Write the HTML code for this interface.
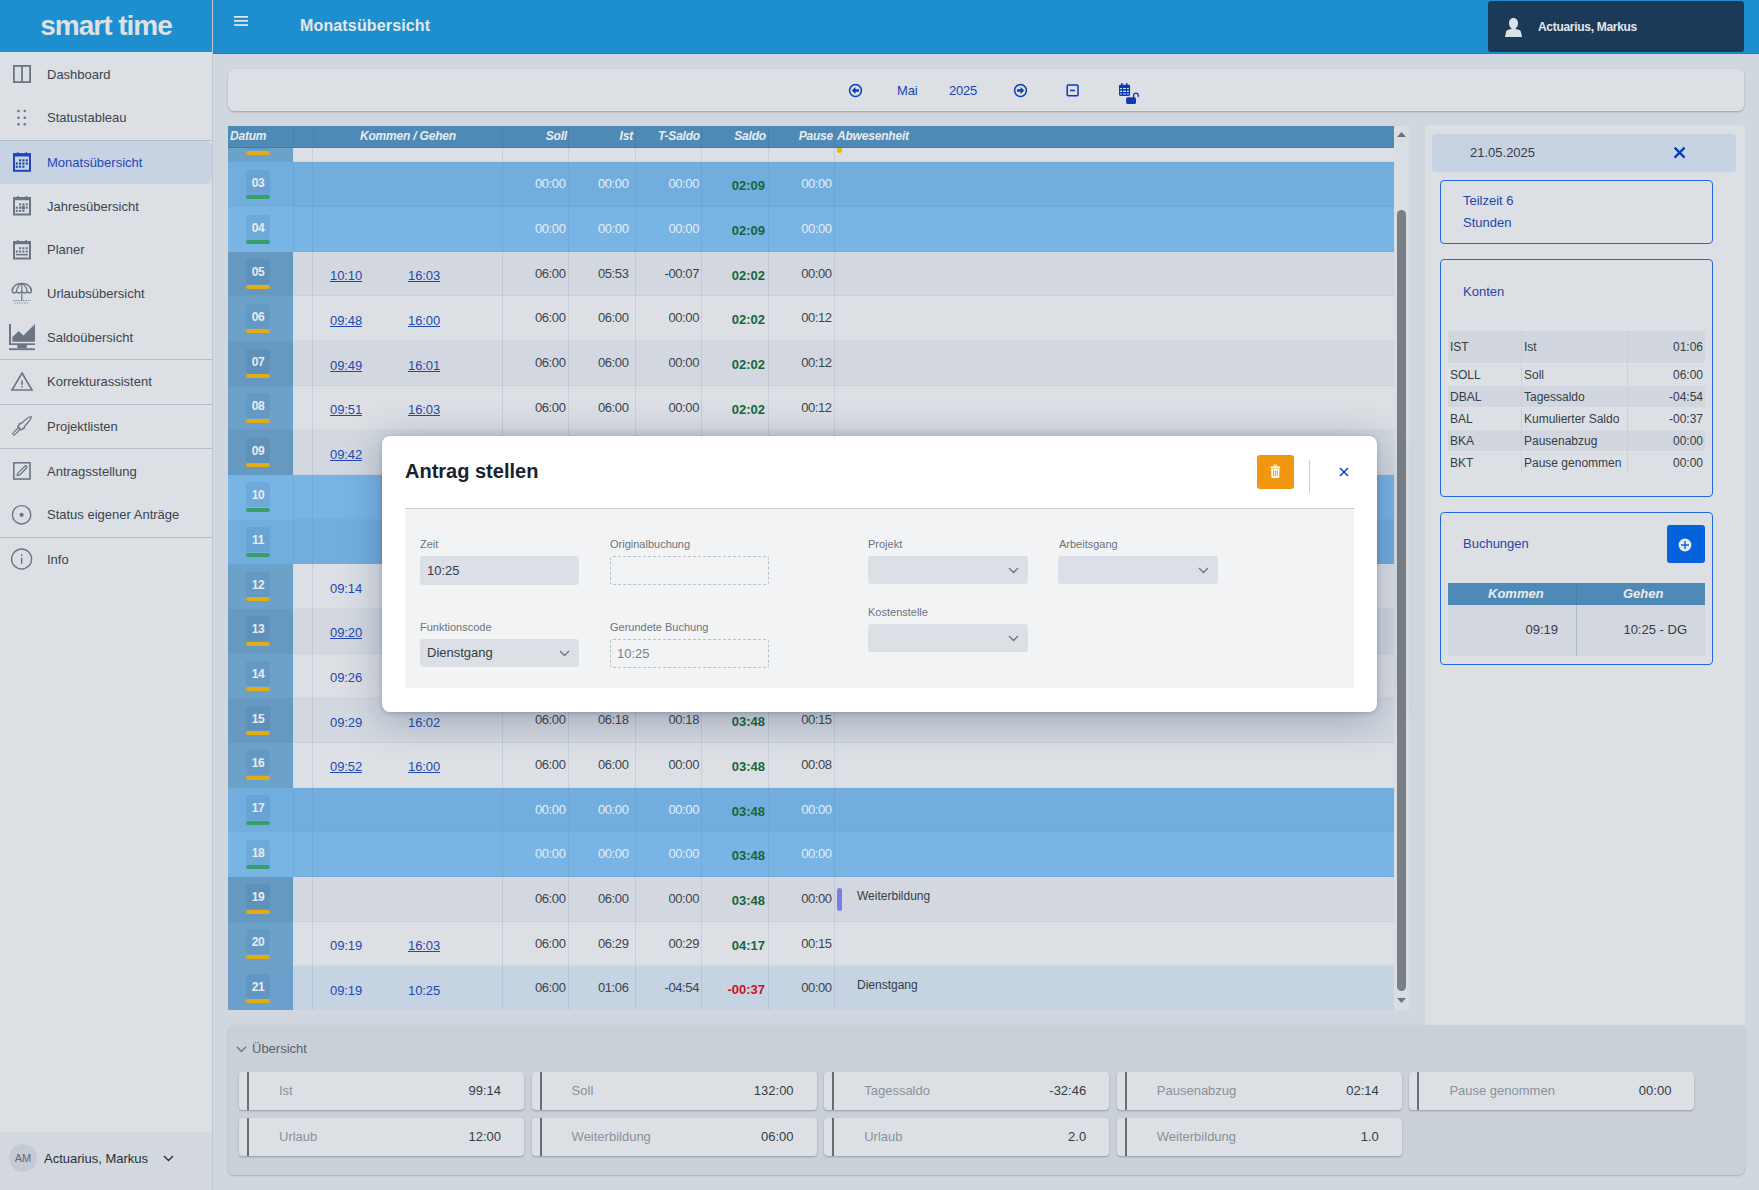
<!DOCTYPE html>
<html><head><meta charset="utf-8">
<style>
*{box-sizing:border-box;margin:0;padding:0}
html,body{width:1759px;height:1190px;overflow:hidden;font-family:"Liberation Sans",sans-serif;background:#d1d7df;color:#343c46;position:relative}
i{display:block;font-style:normal}
.abs{position:absolute}
#sb{position:absolute;left:0;top:0;width:213px;height:1190px;background:#dce0e5;border-right:1px solid #bfc7d1}
#logo{position:absolute;left:0;top:0;width:212px;height:52px;background:#1d8fcf;color:#dde1e6;font-weight:bold;font-size:28px;text-align:center;line-height:52px;letter-spacing:-1px}
.nav{position:absolute;left:0;width:212px;height:43px;font-size:13px;color:#3a4450}
.nav.act{background:#c7d3e3;border-radius:0 6px 6px 0;color:#1f48b6}
.nav .t{position:absolute;left:47px;top:0;line-height:43px}
.nav svg{position:absolute;left:13px}
.sep{position:absolute;left:0;width:212px;height:1px;background:#b4bcc7}
#sbu{position:absolute;left:0;top:1132px;width:212px;height:58px;background:#d3d8df}
#av{position:absolute;left:9px;top:12px;width:28px;height:28px;border-radius:50%;background:#c4cbd4;color:#5f6873;font-size:11px;text-align:center;line-height:28px}
#hdr{position:absolute;left:213px;top:0;width:1546px;height:54px;background:#1d8fcf;border-bottom:1px solid #1582c4}
#ttl{position:absolute;left:300px;top:17px;font-size:16px;font-weight:bold;color:#e4e7eb;letter-spacing:0.15px}
#user{position:absolute;left:1488px;top:1px;width:256px;height:51px;background:#1b3a57;border-radius:3px;color:#e4e7eb;font-weight:bold;font-size:12px;letter-spacing:-0.3px}
#toolbar{position:absolute;left:228px;top:69px;width:1516px;height:42px;background:#dce0e5;border-radius:6px;box-shadow:0 1px 2px rgba(0,0,0,.25)}
.tb{position:absolute;color:#1f3fae;font-size:13px;letter-spacing:-0.2px}
#tbl{position:absolute;left:228px;top:126px;width:1166px;height:884px;overflow:hidden}
#th{position:absolute;left:0;top:0;width:1166px;height:21.5px;background:#4e8ab5;color:#e8ecf0;font-style:italic;font-size:12px;font-weight:bold;letter-spacing:-0.2px;z-index:2}
#th span{position:absolute;top:3px}
#th:after{content:'';position:absolute;left:0;bottom:0;width:100%;height:1px;background:#3f79a6}
#th .hv{position:absolute;top:0;width:1px;height:100%;background:rgba(0,0,0,.07)}
.row{position:absolute;left:0;width:1166px;height:44.72px;background:#dce0e5}
.row.ra{background:#d3d8e0}
.row{box-shadow:inset 0 -1px 0 rgba(60,80,110,.05)}
.row.rw{background:#71aede}
.row.rW{background:#78b4e4}
.row.rs{background:#c5d3e3}
.row .d{position:absolute;left:0;top:0;width:65px;height:100%;background:#6ca2ca}
.row.ra .d{background:#6599c1}
.row.rw .d{background:#71aede}
.row.rW .d{background:#78b4e4}
.row.rs .d{background:#6aa0cb}
.badge{position:absolute;left:18px;top:7.5px;width:24px;height:25px;border-radius:3px;background:rgba(40,90,140,.12);color:#e8ecf0;font-size:12px;font-weight:bold;text-align:center;line-height:26px;letter-spacing:-0.3px}
.bar{position:absolute;left:18px;top:33px;width:24px;height:4px;border-radius:2px;background:#e4ac10}
.bar.g{background:#37a06a}
.vl{position:absolute;top:0;width:1px;height:100%;background:rgba(110,130,160,.18)}
.c{position:absolute;top:14px;font-size:13px;color:#3a4450;letter-spacing:-0.4px}
.k{position:absolute;top:16.5px;letter-spacing:-0.1px;font-size:13px;color:#2248b0}
.k.u{text-decoration:underline}
.sal{position:absolute;top:16px;font-size:13px;font-weight:bold;color:#17663a}
.sal.red{color:#c8161d}
.rw .c,.rW .c{color:#e6eef6}
.abwbar{position:absolute;left:609px;top:11px;width:5px;height:23px;border-radius:3px;background:#7b7de6}
.abwbar.lt{background:#cccde8}
.abwbar.yl{background:#e2c000;top:auto;bottom:-15.5px;height:22px}
.abw{position:absolute;left:629px;top:12px;font-size:12px;color:#343c46}
#scr{position:absolute;left:1394px;top:126px;width:15px;height:884px;background:#d9dee4}
#thumb{position:absolute;left:3px;top:83.5px;width:9px;height:781px;border-radius:4.5px;background:#7a7f85}
#rp{position:absolute;left:1425px;top:125px;width:320px;height:900px;background:#dce0e5;border-radius:4px}
.box{position:absolute;width:273px;border:1.6px solid #1f6be0;border-radius:4px}
.bt{font-size:13px;color:#2844a8}
.kr{position:absolute;left:0;width:257px;font-size:12px;color:#343c46}
.kr.alt{background:#d2d7df}
.kr{border-bottom:1px solid #dde1e6}
.kr i{position:absolute;top:0;width:1px;height:100%;background:#c9cfd7}
.kr span{position:absolute;top:0}
#ft{position:absolute;left:228px;top:1025px;width:1517px;height:150px;background:#c9d0d8;border-radius:7px;box-shadow:0 1px 2px rgba(0,0,0,.2)}
.card{position:absolute;width:285px;height:38px;background:#dce0e5;border-radius:4px;box-shadow:0 1px 2px rgba(0,0,0,.25)}
.card:before{content:"";position:absolute;left:8px;top:0;width:2px;height:100%;background:#686d74}
.card .l{position:absolute;left:40px;top:11px;font-size:13px;color:#8a9099}
.card .v{position:absolute;right:23px;top:11px;font-size:13px;color:#343c46}
#modal{position:absolute;left:382px;top:436px;width:995px;height:276px;background:#fff;border-radius:8px;box-shadow:0 6px 40px rgba(30,50,80,.32),0 1px 4px rgba(30,50,80,.25)}
#form{position:absolute;left:23px;top:72px;width:949px;height:180px;background:#f2f3f5;border-top:1px solid #c5ccd5}
.lbl{position:absolute;font-size:11px;color:#6c737c}
.inp{position:absolute;width:159px;height:29px;background:#dce0e6;border-radius:3px;font-size:13px;color:#343c46;padding-left:7px;line-height:29px}
.dash{position:absolute;width:159px;height:29px;border:1px dashed #b9bfc7;border-radius:3px;font-size:13px;color:#7a8089;padding-left:6px;line-height:27px}
.chev{position:absolute;right:9px;top:11px}

.inp.sel{height:28px;line-height:28px}
.dash.sel2{height:28px}

</style></head><body>
<div id="sb"><div id="logo">smart time</div>
<div class="nav" style="top:53px"><span class="t">Dashboard</span></div>
<div class="nav" style="top:96px"><span class="t">Statustableau</span></div>
<div class="nav act" style="top:141px"><span class="t">Monatsübersicht</span></div>
<div class="nav" style="top:185px"><span class="t">Jahresübersicht</span></div>
<div class="nav" style="top:228px"><span class="t">Planer</span></div>
<div class="nav" style="top:272px"><span class="t">Urlaubsübersicht</span></div>
<div class="nav" style="top:316px"><span class="t">Saldoübersicht</span></div>
<div class="nav" style="top:360px"><span class="t">Korrekturassistent</span></div>
<div class="nav" style="top:405px"><span class="t">Projektlisten</span></div>
<div class="nav" style="top:450px"><span class="t">Antragsstellung</span></div>
<div class="nav" style="top:493px"><span class="t">Status eigener Anträge</span></div>
<div class="nav" style="top:538px"><span class="t">Info</span></div>
<div class="sep" style="top:139.5px"></div>
<div class="sep" style="top:359px"></div>
<div class="sep" style="top:403.5px"></div>
<div class="sep" style="top:448px"></div>
<div class="sep" style="top:537px"></div>
<svg class="abs" style="left:0;top:0" width="212" height="600" viewBox="0 0 212 600"><rect x="13.9" y="65.9" width="16.2" height="16.2" fill="none" stroke="#6b7685" stroke-width="1.8"/><rect x="21.1" y="66" width="1.8" height="16" fill="#6b7685"/><circle cx="18.5" cy="111" r="1.3" fill="#6b7685"/><circle cx="18.5" cy="117.8" r="1.3" fill="#6b7685"/><circle cx="18.5" cy="124.3" r="1.3" fill="#6b7685"/><circle cx="24.8" cy="111" r="1.3" fill="#6b7685"/><circle cx="24.8" cy="117.8" r="1.3" fill="#6b7685"/><circle cx="24.8" cy="124.3" r="1.3" fill="#6b7685"/><rect x="14" y="154.3" width="16" height="16.5" fill="none" stroke="#1f48b6" stroke-width="2"/><rect x="13" y="153.3" width="18" height="3.2" fill="#1f48b6"/><rect x="17" y="152.3" width="1.6" height="2" fill="#1f48b6"/><rect x="25.4" y="152.3" width="1.6" height="2" fill="#1f48b6"/><rect x="19" y="159.3" width="2.1" height="2.1" fill="#1f48b6"/><rect x="22.3" y="159.3" width="2.1" height="2.1" fill="#1f48b6"/><rect x="25.7" y="159.3" width="2.1" height="2.1" fill="#1f48b6"/><rect x="15.8" y="162.5" width="2.1" height="2.1" fill="#1f48b6"/><rect x="19" y="162.5" width="2.1" height="2.1" fill="#1f48b6"/><rect x="22.3" y="162.5" width="2.1" height="2.1" fill="#1f48b6"/><rect x="25.7" y="162.5" width="2.1" height="2.1" fill="#1f48b6"/><rect x="15.8" y="165.7" width="2.1" height="2.1" fill="#1f48b6"/><rect x="19" y="165.7" width="2.1" height="2.1" fill="#1f48b6"/><rect x="22.3" y="165.7" width="2.1" height="2.1" fill="#1f48b6"/><rect x="14" y="198" width="16" height="16.5" fill="none" stroke="#6b7685" stroke-width="2"/><rect x="13" y="197" width="18" height="3.2" fill="#6b7685"/><rect x="17" y="196" width="1.6" height="2" fill="#6b7685"/><rect x="25.4" y="196" width="1.6" height="2" fill="#6b7685"/><rect x="19" y="203.4" width="2.1" height="2.1" fill="#6b7685"/><rect x="22.3" y="203.4" width="2.1" height="2.1" fill="#6b7685"/><rect x="25.7" y="203.4" width="2.1" height="2.1" fill="#6b7685"/><rect x="15.8" y="206.6" width="2.1" height="2.1" fill="#6b7685"/><rect x="19" y="206.6" width="2.1" height="2.1" fill="#6b7685"/><rect x="25.7" y="206.6" width="2.1" height="2.1" fill="#6b7685"/><rect x="15.8" y="209.8" width="2.1" height="2.1" fill="#6b7685"/><rect x="19" y="209.8" width="2.1" height="2.1" fill="#6b7685"/><rect x="22.3" y="209.8" width="2.1" height="2.1" fill="#6b7685"/><rect x="21.6" y="206" width="3.3" height="3.3" fill="#6b7685"/><rect x="14" y="242" width="16" height="16.5" fill="none" stroke="#6b7685" stroke-width="2"/><rect x="13" y="241" width="18" height="3.2" fill="#6b7685"/><rect x="17" y="240" width="1.6" height="2" fill="#6b7685"/><rect x="25.4" y="240" width="1.6" height="2" fill="#6b7685"/><rect x="19" y="247.2" width="2.1" height="2.1" fill="#6b7685"/><rect x="22.3" y="247.2" width="2.1" height="2.1" fill="#6b7685"/><rect x="25.7" y="247.2" width="2.1" height="2.1" fill="#6b7685"/><rect x="15.8" y="250.5" width="2.1" height="2.1" fill="#6b7685"/><rect x="19" y="250.5" width="2.1" height="2.1" fill="#6b7685"/><rect x="22.3" y="250.5" width="2.1" height="2.1" fill="#6b7685"/><rect x="25.7" y="250.5" width="2.1" height="2.1" fill="#6b7685"/><rect x="16" y="253.9" width="12" height="1.5" fill="#6b7685"/><path d="M12 291.5 Q13 283.5 21.8 283.5 Q30.6 283.5 31.6 291.5" fill="none" stroke="#6b7685" stroke-width="1.5"/><path d="M12 291.5 Q14.2 294.2 16.4 291.8 Q19 294.2 21.8 291.8 Q24.6 294.2 27.2 291.8 Q29.4 294.2 31.6 291.5" fill="none" stroke="#6b7685" stroke-width="1.5"/><path d="M16.4 291.8 Q17 286 21.8 283.5 Q26.6 286 27.2 291.8 M21.8 283.5 V300.5" fill="none" stroke="#6b7685" stroke-width="1.2"/><path d="M13 300.5 H31" stroke="#6b7685" stroke-width="1.1" stroke-dasharray="1.2 1.3"/><path d="M14.5 303 H29" stroke="#6b7685" stroke-width="1" stroke-dasharray="1 1.4"/><rect x="9" y="324" width="2" height="21" fill="#6b7685"/><rect x="9" y="343.3" width="26" height="1.7" fill="#6b7685"/><path d="M12.3 337.3 L18.6 331 L23.4 335.4 L35 324 V341.7 H12.3Z" fill="#6b7685"/><rect x="17.3" y="345" width="9.5" height="3.4" fill="#6b7685"/><rect x="9" y="348.3" width="26" height="1.8" fill="#6b7685"/><path d="M22 373 L32 390 H12Z" fill="none" stroke="#6b7685" stroke-width="1.6" stroke-linejoin="miter"/><rect x="21.2" y="380.4" width="1.6" height="4.6" fill="#6b7685"/><rect x="21.2" y="386" width="1.6" height="1.5" fill="#6b7685"/><g transform="rotate(-45 22 425.8)"><rect x="9.5" y="424.6" width="9" height="2.4" rx="1.2" fill="none" stroke="#6b7685" stroke-width="1.2"/><path d="M18.5 423.3 H21 V422.6 H22.6 V423.4 L24.5 423.8 Q34 423.8 35 425.8 Q34 427.8 24.5 427.8 L22.6 428.2 V429 H21 V428.3 H18.5Z" fill="none" stroke="#6b7685" stroke-width="1.3" stroke-linejoin="round"/></g><rect x="13.8" y="462.8" width="16.2" height="16.2" fill="none" stroke="#6b7685" stroke-width="1.6"/><path d="M17.3 475.5 L17.6 473.4 L24.8 466.2 Q25.8 465.4 26.6 466.2 Q27.4 467 26.6 468 L19.4 475.2Z" fill="none" stroke="#6b7685" stroke-width="1.3" stroke-linejoin="round"/><circle cx="21.6" cy="514.8" r="9.2" fill="none" stroke="#6b7685" stroke-width="1.4"/><circle cx="21.6" cy="514.8" r="2.1" fill="#6b7685"/><circle cx="21.6" cy="559" r="10" fill="none" stroke="#6b7685" stroke-width="1.4"/><rect x="20.9" y="557.6" width="1.5" height="6" fill="#6b7685"/><rect x="20.9" y="554.3" width="1.5" height="1.6" fill="#6b7685"/></svg>
<div id="sbu"><div id="av">AM</div><span class="abs" style="left:44px;top:19px;font-size:13px;color:#262e38">Actuarius, Markus</span><svg class="abs" style="left:162.5px;top:23px" width="11" height="7" viewBox="0 0 11 7"><path d="M1 1 L5.5 5.5 L10 1" fill="none" stroke="#262e38" stroke-width="1.4"/></svg></div>
</div>
<div id="hdr"></div>
<svg class="abs" style="left:234px;top:15px" width="14" height="12" viewBox="0 0 14 12"><rect x="0" y="1" width="14" height="1.7" fill="#e4e7eb"/><rect x="0" y="5" width="14" height="1.7" fill="#e4e7eb"/><rect x="0" y="9.2" width="14" height="1.7" fill="#e4e7eb"/></svg>
<div id="ttl">Monatsübersicht</div>
<div id="user">
  <svg class="abs" style="left:17px;top:16.5px" width="18" height="20" viewBox="0 0 18 20"><path d="M8.5 0 C11.2 0 13 2.2 13 5.2 C13 7.6 11.8 9.6 10.6 10.3 L10.6 11 C13.8 11.4 15.6 12.2 16 14 L17 19 H0 L1 14 C1.4 12.2 3.2 11.4 6.4 11 L6.4 10.3 C5.2 9.6 4 7.6 4 5.2 C4 2.2 5.8 0 8.5 0Z" fill="#dde1e6"/></svg>
  <div class="abs" style="left:50px;top:19px">Actuarius, Markus</div>
</div>
<div id="toolbar"></div>
<svg class="abs" style="left:848px;top:83px" width="15" height="15" viewBox="0 0 15 15"><circle cx="7.5" cy="7.5" r="5.9" fill="none" stroke="#0c3bb2" stroke-width="1.5"/><path d="M3.8 7.5 L7.4 3.9 V6.2 H11 V8.8 H7.4 V11.1Z" fill="#0c3bb2"/></svg>
<span class="tb" style="left:897px;top:83px">Mai</span>
<span class="tb" style="left:949px;top:83px">2025</span>
<svg class="abs" style="left:1013px;top:83px" width="15" height="15" viewBox="0 0 15 15"><circle cx="7.5" cy="7.5" r="5.9" fill="none" stroke="#0c3bb2" stroke-width="1.5"/><path d="M11.2 7.5 L7.6 3.9 V6.2 H4 V8.8 H7.6 V11.1Z" fill="#0c3bb2"/></svg>
<svg class="abs" style="left:1066px;top:84px" width="13" height="13" viewBox="0 0 13 13"><rect x="1.2" y="1" width="10.8" height="10.8" rx="1" fill="none" stroke="#0c3bb2" stroke-width="1.5"/><rect x="4" y="5.7" width="5" height="1.5" fill="#0c3bb2"/></svg>
<svg class="abs" style="left:1118px;top:82px" width="23" height="24" viewBox="0 0 23 24"><rect x="1" y="2.8" width="11.1" height="11.1" rx="1.3" fill="#0c3bb2"/><rect x="3.1" y="1" width="1.5" height="2.5" rx="0.6" fill="#0c3bb2"/><rect x="8" y="1" width="1.5" height="2.5" rx="0.6" fill="#0c3bb2"/>
<g fill="#dce0e5"><rect x="2" y="6" width="2" height="1.1"/><rect x="5.1" y="6" width="2.8" height="1.1"/><rect x="8.9" y="6" width="2" height="1.1"/><rect x="2" y="8.7" width="2" height="1.3"/><rect x="5.1" y="8.7" width="2.8" height="1.3"/><rect x="8.9" y="8.7" width="2" height="1.3"/></g><g fill="#dce0e5" opacity="0.55"><rect x="2" y="11.1" width="2" height="1.7"/><rect x="5.1" y="11.1" width="2.8" height="1.7"/><rect x="8.9" y="11.1" width="2" height="1.7"/></g>
<rect x="8.1" y="15.2" width="9.9" height="6.8" rx="1.6" fill="#0c3bb2"/><path d="M15.6 15.6 V13.4 A2.35 2.35 0 0 1 20.3 13.4 V14.4" fill="none" stroke="#0c3bb2" stroke-width="1.3" stroke-linecap="round"/></svg>

<div id="tbl">
<div id="th"><span style="left:2px">Datum</span><span style="left:132px">Kommen / Gehen</span><span style="right:827px">Soll</span><span style="right:761px">Ist</span><span style="right:694px">T-Saldo</span><span style="right:628px">Saldo</span><span style="right:561px">Pause</span><span style="left:609px">Abwesenheit</span><i class="hv" style="left:65px"></i><i class="hv" style="left:85px"></i><i class="hv" style="left:274px"></i><i class="hv" style="left:340px"></i><i class="hv" style="left:407px"></i><i class="hv" style="left:473px"></i><i class="hv" style="left:540px"></i><i class="hv" style="left:606px"></i></div>
<div class="row rn" style="top:-8.25px">
<div class="d"><div class="badge">02</div><div class="bar"></div></div>
<i class="vl" style="left:84px"></i>
<i class="vl" style="left:274px"></i>
<i class="vl" style="left:340px"></i>
<i class="vl" style="left:407px"></i>
<i class="vl" style="left:473px"></i>
<i class="vl" style="left:540px"></i>
<i class="vl" style="left:606px"></i>
<i class="abwbar yl" style="bottom:9px;top:auto"></i>
</div>
<div class="row rw" style="top:36.40px">
<div class="d"><div class="badge">03</div><div class="bar g"></div></div>
<i class="vl" style="left:65px"></i>
<i class="vl" style="left:84px"></i>
<i class="vl" style="left:274px"></i>
<i class="vl" style="left:340px"></i>
<i class="vl" style="left:407px"></i>
<i class="vl" style="left:473px"></i>
<i class="vl" style="left:540px"></i>
<i class="vl" style="left:606px"></i>
<span class="c" style="right:828.5px">00:00</span>
<span class="c" style="right:765.5px">00:00</span>
<span class="c" style="right:695px">00:00</span>
<span class="c" style="right:562.3px">00:00</span>
<span class="sal" style="right:629px">02:09</span>
</div>
<div class="row rW" style="top:81.06px">
<div class="d"><div class="badge">04</div><div class="bar g"></div></div>
<i class="vl" style="left:65px"></i>
<i class="vl" style="left:84px"></i>
<i class="vl" style="left:274px"></i>
<i class="vl" style="left:340px"></i>
<i class="vl" style="left:407px"></i>
<i class="vl" style="left:473px"></i>
<i class="vl" style="left:540px"></i>
<i class="vl" style="left:606px"></i>
<span class="c" style="right:828.5px">00:00</span>
<span class="c" style="right:765.5px">00:00</span>
<span class="c" style="right:695px">00:00</span>
<span class="c" style="right:562.3px">00:00</span>
<span class="sal" style="right:629px">02:09</span>
</div>
<div class="row ra" style="top:125.71px">
<div class="d"><div class="badge">05</div><div class="bar"></div></div>
<i class="vl" style="left:84px"></i>
<i class="vl" style="left:274px"></i>
<i class="vl" style="left:340px"></i>
<i class="vl" style="left:407px"></i>
<i class="vl" style="left:473px"></i>
<i class="vl" style="left:540px"></i>
<i class="vl" style="left:606px"></i>
<span class="k u" style="left:102px">10:10</span>
<span class="k u" style="left:180px">16:03</span>
<span class="c" style="right:828.5px">06:00</span>
<span class="c" style="right:765.5px">05:53</span>
<span class="c" style="right:695px">-00:07</span>
<span class="c" style="right:562.3px">00:00</span>
<span class="sal" style="right:629px">02:02</span>
</div>
<div class="row rn" style="top:170.37px">
<div class="d"><div class="badge">06</div><div class="bar"></div></div>
<i class="vl" style="left:84px"></i>
<i class="vl" style="left:274px"></i>
<i class="vl" style="left:340px"></i>
<i class="vl" style="left:407px"></i>
<i class="vl" style="left:473px"></i>
<i class="vl" style="left:540px"></i>
<i class="vl" style="left:606px"></i>
<span class="k u" style="left:102px">09:48</span>
<span class="k u" style="left:180px">16:00</span>
<span class="c" style="right:828.5px">06:00</span>
<span class="c" style="right:765.5px">06:00</span>
<span class="c" style="right:695px">00:00</span>
<span class="c" style="right:562.3px">00:12</span>
<span class="sal" style="right:629px">02:02</span>
</div>
<div class="row ra" style="top:215.02px">
<div class="d"><div class="badge">07</div><div class="bar"></div></div>
<i class="vl" style="left:84px"></i>
<i class="vl" style="left:274px"></i>
<i class="vl" style="left:340px"></i>
<i class="vl" style="left:407px"></i>
<i class="vl" style="left:473px"></i>
<i class="vl" style="left:540px"></i>
<i class="vl" style="left:606px"></i>
<span class="k u" style="left:102px">09:49</span>
<span class="k u" style="left:180px">16:01</span>
<span class="c" style="right:828.5px">06:00</span>
<span class="c" style="right:765.5px">06:00</span>
<span class="c" style="right:695px">00:00</span>
<span class="c" style="right:562.3px">00:12</span>
<span class="sal" style="right:629px">02:02</span>
</div>
<div class="row rn" style="top:259.68px">
<div class="d"><div class="badge">08</div><div class="bar"></div></div>
<i class="vl" style="left:84px"></i>
<i class="vl" style="left:274px"></i>
<i class="vl" style="left:340px"></i>
<i class="vl" style="left:407px"></i>
<i class="vl" style="left:473px"></i>
<i class="vl" style="left:540px"></i>
<i class="vl" style="left:606px"></i>
<span class="k u" style="left:102px">09:51</span>
<span class="k u" style="left:180px">16:03</span>
<span class="c" style="right:828.5px">06:00</span>
<span class="c" style="right:765.5px">06:00</span>
<span class="c" style="right:695px">00:00</span>
<span class="c" style="right:562.3px">00:12</span>
<span class="sal" style="right:629px">02:02</span>
</div>
<div class="row ra" style="top:304.33px">
<div class="d"><div class="badge">09</div><div class="bar"></div></div>
<i class="vl" style="left:84px"></i>
<i class="vl" style="left:274px"></i>
<i class="vl" style="left:340px"></i>
<i class="vl" style="left:407px"></i>
<i class="vl" style="left:473px"></i>
<i class="vl" style="left:540px"></i>
<i class="vl" style="left:606px"></i>
<span class="k u" style="left:102px">09:42</span>
<span class="k u" style="left:180px">16:00</span>
<span class="c" style="right:828.5px">06:00</span>
<span class="c" style="right:765.5px">06:00</span>
<span class="c" style="right:695px">00:00</span>
<span class="c" style="right:562.3px">00:12</span>
<span class="sal" style="right:629px">02:02</span>
</div>
<div class="row rW" style="top:348.99px">
<div class="d"><div class="badge">10</div><div class="bar g"></div></div>
<i class="vl" style="left:65px"></i>
<i class="vl" style="left:84px"></i>
<i class="vl" style="left:274px"></i>
<i class="vl" style="left:340px"></i>
<i class="vl" style="left:407px"></i>
<i class="vl" style="left:473px"></i>
<i class="vl" style="left:540px"></i>
<i class="vl" style="left:606px"></i>
<span class="c" style="right:828.5px">00:00</span>
<span class="c" style="right:765.5px">00:00</span>
<span class="c" style="right:695px">00:00</span>
<span class="c" style="right:562.3px">00:00</span>
<span class="sal" style="right:629px">02:02</span>
</div>
<div class="row rw" style="top:393.64px">
<div class="d"><div class="badge">11</div><div class="bar g"></div></div>
<i class="vl" style="left:65px"></i>
<i class="vl" style="left:84px"></i>
<i class="vl" style="left:274px"></i>
<i class="vl" style="left:340px"></i>
<i class="vl" style="left:407px"></i>
<i class="vl" style="left:473px"></i>
<i class="vl" style="left:540px"></i>
<i class="vl" style="left:606px"></i>
<span class="c" style="right:828.5px">00:00</span>
<span class="c" style="right:765.5px">00:00</span>
<span class="c" style="right:695px">00:00</span>
<span class="c" style="right:562.3px">00:00</span>
<span class="sal" style="right:629px">02:02</span>
</div>
<div class="row rn" style="top:438.30px">
<div class="d"><div class="badge">12</div><div class="bar"></div></div>
<i class="vl" style="left:84px"></i>
<i class="vl" style="left:274px"></i>
<i class="vl" style="left:340px"></i>
<i class="vl" style="left:407px"></i>
<i class="vl" style="left:473px"></i>
<i class="vl" style="left:540px"></i>
<i class="vl" style="left:606px"></i>
<span class="k" style="left:102px">09:14</span>
<span class="k u" style="left:180px">16:00</span>
<span class="c" style="right:828.5px">06:00</span>
<span class="c" style="right:765.5px">06:00</span>
<span class="c" style="right:695px">00:00</span>
<span class="c" style="right:562.3px">00:12</span>
<span class="sal" style="right:629px">02:02</span>
</div>
<div class="row ra" style="top:482.95px">
<div class="d"><div class="badge">13</div><div class="bar"></div></div>
<i class="vl" style="left:84px"></i>
<i class="vl" style="left:274px"></i>
<i class="vl" style="left:340px"></i>
<i class="vl" style="left:407px"></i>
<i class="vl" style="left:473px"></i>
<i class="vl" style="left:540px"></i>
<i class="vl" style="left:606px"></i>
<span class="k u" style="left:102px">09:20</span>
<span class="k u" style="left:180px">16:00</span>
<span class="c" style="right:828.5px">06:00</span>
<span class="c" style="right:765.5px">06:00</span>
<span class="c" style="right:695px">00:00</span>
<span class="c" style="right:562.3px">00:12</span>
<span class="sal" style="right:629px">02:02</span>
</div>
<div class="row rn" style="top:527.61px">
<div class="d"><div class="badge">14</div><div class="bar"></div></div>
<i class="vl" style="left:84px"></i>
<i class="vl" style="left:274px"></i>
<i class="vl" style="left:340px"></i>
<i class="vl" style="left:407px"></i>
<i class="vl" style="left:473px"></i>
<i class="vl" style="left:540px"></i>
<i class="vl" style="left:606px"></i>
<span class="k" style="left:102px">09:26</span>
<span class="k u" style="left:180px">16:00</span>
<span class="c" style="right:828.5px">06:00</span>
<span class="c" style="right:765.5px">06:00</span>
<span class="c" style="right:695px">00:00</span>
<span class="c" style="right:562.3px">00:12</span>
<span class="sal" style="right:629px">02:02</span>
</div>
<div class="row ra" style="top:572.26px">
<div class="d"><div class="badge">15</div><div class="bar"></div></div>
<i class="vl" style="left:84px"></i>
<i class="vl" style="left:274px"></i>
<i class="vl" style="left:340px"></i>
<i class="vl" style="left:407px"></i>
<i class="vl" style="left:473px"></i>
<i class="vl" style="left:540px"></i>
<i class="vl" style="left:606px"></i>
<span class="k" style="left:102px">09:29</span>
<span class="k" style="left:180px">16:02</span>
<span class="c" style="right:828.5px">06:00</span>
<span class="c" style="right:765.5px">06:18</span>
<span class="c" style="right:695px">00:18</span>
<span class="c" style="right:562.3px">00:15</span>
<span class="sal" style="right:629px">03:48</span>
</div>
<div class="row rn" style="top:616.92px">
<div class="d"><div class="badge">16</div><div class="bar"></div></div>
<i class="vl" style="left:84px"></i>
<i class="vl" style="left:274px"></i>
<i class="vl" style="left:340px"></i>
<i class="vl" style="left:407px"></i>
<i class="vl" style="left:473px"></i>
<i class="vl" style="left:540px"></i>
<i class="vl" style="left:606px"></i>
<span class="k u" style="left:102px">09:52</span>
<span class="k u" style="left:180px">16:00</span>
<span class="c" style="right:828.5px">06:00</span>
<span class="c" style="right:765.5px">06:00</span>
<span class="c" style="right:695px">00:00</span>
<span class="c" style="right:562.3px">00:08</span>
<span class="sal" style="right:629px">03:48</span>
</div>
<div class="row rw" style="top:661.57px">
<div class="d"><div class="badge">17</div><div class="bar g"></div></div>
<i class="vl" style="left:65px"></i>
<i class="vl" style="left:84px"></i>
<i class="vl" style="left:274px"></i>
<i class="vl" style="left:340px"></i>
<i class="vl" style="left:407px"></i>
<i class="vl" style="left:473px"></i>
<i class="vl" style="left:540px"></i>
<i class="vl" style="left:606px"></i>
<span class="c" style="right:828.5px">00:00</span>
<span class="c" style="right:765.5px">00:00</span>
<span class="c" style="right:695px">00:00</span>
<span class="c" style="right:562.3px">00:00</span>
<span class="sal" style="right:629px">03:48</span>
</div>
<div class="row rW" style="top:706.23px">
<div class="d"><div class="badge">18</div><div class="bar g"></div></div>
<i class="vl" style="left:65px"></i>
<i class="vl" style="left:84px"></i>
<i class="vl" style="left:274px"></i>
<i class="vl" style="left:340px"></i>
<i class="vl" style="left:407px"></i>
<i class="vl" style="left:473px"></i>
<i class="vl" style="left:540px"></i>
<i class="vl" style="left:606px"></i>
<span class="c" style="right:828.5px">00:00</span>
<span class="c" style="right:765.5px">00:00</span>
<span class="c" style="right:695px">00:00</span>
<span class="c" style="right:562.3px">00:00</span>
<span class="sal" style="right:629px">03:48</span>
</div>
<div class="row ra" style="top:750.88px">
<div class="d"><div class="badge">19</div><div class="bar"></div></div>
<i class="vl" style="left:84px"></i>
<i class="vl" style="left:274px"></i>
<i class="vl" style="left:340px"></i>
<i class="vl" style="left:407px"></i>
<i class="vl" style="left:473px"></i>
<i class="vl" style="left:540px"></i>
<i class="vl" style="left:606px"></i>
<span class="c" style="right:828.5px">06:00</span>
<span class="c" style="right:765.5px">06:00</span>
<span class="c" style="right:695px">00:00</span>
<span class="c" style="right:562.3px">00:00</span>
<span class="sal" style="right:629px">03:48</span>
<i class="abwbar"></i><span class="abw">Weiterbildung</span>
</div>
<div class="row rn" style="top:795.53px">
<div class="d"><div class="badge">20</div><div class="bar"></div></div>
<i class="vl" style="left:84px"></i>
<i class="vl" style="left:274px"></i>
<i class="vl" style="left:340px"></i>
<i class="vl" style="left:407px"></i>
<i class="vl" style="left:473px"></i>
<i class="vl" style="left:540px"></i>
<i class="vl" style="left:606px"></i>
<span class="k" style="left:102px">09:19</span>
<span class="k u" style="left:180px">16:03</span>
<span class="c" style="right:828.5px">06:00</span>
<span class="c" style="right:765.5px">06:29</span>
<span class="c" style="right:695px">00:29</span>
<span class="c" style="right:562.3px">00:15</span>
<span class="sal" style="right:629px">04:17</span>
</div>
<div class="row rs" style="top:840.19px">
<div class="d"><div class="badge">21</div><div class="bar"></div></div>
<i class="vl" style="left:84px"></i>
<i class="vl" style="left:274px"></i>
<i class="vl" style="left:340px"></i>
<i class="vl" style="left:407px"></i>
<i class="vl" style="left:473px"></i>
<i class="vl" style="left:540px"></i>
<i class="vl" style="left:606px"></i>
<span class="k" style="left:102px">09:19</span>
<span class="k" style="left:180px">10:25</span>
<span class="c" style="right:828.5px">06:00</span>
<span class="c" style="right:765.5px">01:06</span>
<span class="c" style="right:695px">-04:54</span>
<span class="c" style="right:562.3px">00:00</span>
<span class="sal red" style="right:629px">-00:37</span>
<i class="abwbar lt"></i><span class="abw">Dienstgang</span>
</div>
</div>
<div id="scr"><svg class="abs" style="left:3px;top:6px" width="9" height="5"><path d="M0 5 L4.5 0 L9 5Z" fill="#6d747b"/></svg><div id="thumb"></div><svg class="abs" style="left:3px;bottom:7px" width="9" height="5"><path d="M0 0 L4.5 5 L9 0Z" fill="#6d747b"/></svg></div>
<div id="rp"></div>
<div class="abs" style="left:1432px;top:134px;width:304px;height:38px;background:#c7d3e3;border-radius:4px"></div>
<span class="abs" style="left:1470px;top:145px;font-size:13px;color:#343c46">21.05.2025</span>
<svg class="abs" style="left:1673px;top:146px" width="13" height="13" viewBox="0 0 13 13"><path d="M1.6 1.6 L11.6 11.6 M11.6 1.6 L1.6 11.6" stroke="#0838b2" stroke-width="2.2"/></svg>
<div class="box" style="top:180px;left:1440px;height:64px"><span class="abs bt" style="left:22px;top:12px">Teilzeit 6</span><span class="abs bt" style="left:22px;top:34px">Stunden</span></div>
<div class="box" style="top:259px;left:1440px;height:238px"><span class="abs bt" style="left:22px;top:24px">Konten</span>
<div class="abs" style="left:7px;top:71px;width:257px;height:144px"><div class="kr alt" style="top:0px;height:33px;line-height:33px"><span style="left:2px">IST</span><span style="left:76px">Ist</span><span style="right:2px">01:06</span><i style="left:73px"></i><i style="left:179px"></i></div><div class="kr" style="top:33px;height:22px;line-height:22px"><span style="left:2px">SOLL</span><span style="left:76px">Soll</span><span style="right:2px">06:00</span><i style="left:73px"></i><i style="left:179px"></i></div><div class="kr alt" style="top:55px;height:22px;line-height:22px"><span style="left:2px">DBAL</span><span style="left:76px">Tagessaldo</span><span style="right:2px">-04:54</span><i style="left:73px"></i><i style="left:179px"></i></div><div class="kr" style="top:77px;height:22px;line-height:22px"><span style="left:2px">BAL</span><span style="left:76px">Kumulierter Saldo</span><span style="right:2px">-00:37</span><i style="left:73px"></i><i style="left:179px"></i></div><div class="kr alt" style="top:99px;height:22px;line-height:22px"><span style="left:2px">BKA</span><span style="left:76px">Pausenabzug</span><span style="right:2px">00:00</span><i style="left:73px"></i><i style="left:179px"></i></div><div class="kr" style="top:121px;height:22px;line-height:22px"><span style="left:2px">BKT</span><span style="left:76px">Pause genommen</span><span style="right:2px">00:00</span><i style="left:73px"></i><i style="left:179px"></i></div></div></div>
<div class="box" style="top:512px;left:1440px;height:153px"><span class="abs bt" style="left:22px;top:23px">Buchungen</span>
<div class="abs" style="left:226px;top:12px;width:38px;height:38px;background:#0562dd;border-radius:3px"><svg class="abs" style="left:11.4px;top:12.6px" width="14" height="14" viewBox="0 0 14 14"><circle cx="7" cy="7" r="6.4" fill="#e6ebf2"/><path d="M7 3 V11 M3 7 H11" stroke="#0562dd" stroke-width="1.4"/></svg></div>
<div class="abs" style="left:7px;top:70px;width:257px;height:22px;background:#4e8ab5;color:#e8ecf0;font-style:italic;font-weight:bold;font-size:13px"><span class="abs" style="left:40px;top:3px">Kommen</span><span class="abs" style="left:175px;top:3px">Gehen</span><i class="abs" style="left:128px;top:0;width:1px;height:22px;background:rgba(0,0,0,.08)"></i></div>
<div class="abs" style="left:7px;top:92px;width:257px;height:51px;background:#d3d8e0;font-size:13px;color:#343c46"><span class="abs" style="right:147px;top:17px">09:19</span><span class="abs" style="right:18px;top:17px">10:25 - DG</span><i class="abs" style="left:128px;top:0;width:1px;height:51px;background:rgba(100,120,150,.3)"></i></div>
</div>

<div id="ft"></div><svg class="abs" style="left:236px;top:1046px" width="11" height="7" viewBox="0 0 11 7"><path d="M0.8 0.8 L5.4 5.4 L10 0.8" fill="none" stroke="#5d6670" stroke-width="1.15"/></svg><span class="abs" style="left:252px;top:1041px;font-size:13px;color:#59626d">Übersicht</span><div class="card" style="left:239px;top:1072px"><span class="l">Ist</span><span class="v">99:14</span></div><div class="card" style="left:531.6px;top:1072px"><span class="l">Soll</span><span class="v">132:00</span></div><div class="card" style="left:824.2px;top:1072px"><span class="l">Tagessaldo</span><span class="v">-32:46</span></div><div class="card" style="left:1116.8px;top:1072px"><span class="l">Pausenabzug</span><span class="v">02:14</span></div><div class="card" style="left:1409.4px;top:1072px"><span class="l">Pause genommen</span><span class="v">00:00</span></div><div class="card" style="left:239px;top:1118px"><span class="l">Urlaub</span><span class="v">12:00</span></div><div class="card" style="left:531.6px;top:1118px"><span class="l">Weiterbildung</span><span class="v">06:00</span></div><div class="card" style="left:824.2px;top:1118px"><span class="l">Urlaub</span><span class="v">2.0</span></div><div class="card" style="left:1116.8px;top:1118px"><span class="l">Weiterbildung</span><span class="v">1.0</span></div>
<div id="modal">
<span class="abs" style="left:23px;top:24px;font-size:20px;font-weight:bold;color:#1a2230">Antrag stellen</span>
<div class="abs" style="left:875px;top:19px;width:37px;height:34px;background:#f0960f;border-radius:3px"><svg class="abs" style="left:13px;top:9px" width="11" height="15" viewBox="0 0 11 15"><rect x="3.9" y="0.9" width="2.8" height="1.8" rx="0.6" fill="none" stroke="#fff" stroke-width="0.9"/><rect x="0.4" y="2.6" width="9.9" height="1.5" rx="0.5" fill="#fff"/><path d="M1.1 4.6 H9.6 L9.3 12.8 Q9.2 14 8 14 H2.7 Q1.5 14 1.4 12.8Z" fill="#fff"/><path d="M3.5 6.3 V12.2 M5.35 6.3 V12.2 M7.2 6.3 V12.2" stroke="#f0960f" stroke-width="0.9"/></svg></div>
<i class="abs" style="left:927px;top:24px;width:1px;height:33px;background:#c5ccd5"></i>
<svg class="abs" style="left:957px;top:31px" width="10" height="10" viewBox="0 0 10 10"><path d="M1 1 L9 9 M9 1 L1 9" stroke="#0b40c8" stroke-width="1.5"/></svg>
<div id="form">
 <span class="lbl" style="left:15px;top:29px">Zeit</span>
 <div class="inp" style="left:15px;top:47px">10:25</div>
 <span class="lbl" style="left:205px;top:29px">Originalbuchung</span>
 <div class="dash" style="left:205px;top:47px"></div>
 <span class="lbl" style="left:463px;top:29px">Projekt</span>
 <div class="inp sel" style="left:463px;top:47px;width:160px"><svg class="chev" width="11" height="7" viewBox="0 0 11 7"><path d="M1 1 L5.5 5.5 L10 1" fill="none" stroke="#6c737c" stroke-width="1.3"/></svg></div>
 <span class="lbl" style="left:654px;top:29px">Arbeitsgang</span>
 <div class="inp sel" style="left:653px;top:47px;width:160px"><svg class="chev" width="11" height="7" viewBox="0 0 11 7"><path d="M1 1 L5.5 5.5 L10 1" fill="none" stroke="#6c737c" stroke-width="1.3"/></svg></div>
 <span class="lbl" style="left:15px;top:112px">Funktionscode</span>
 <div class="inp sel" style="left:15px;top:130px">Dienstgang<svg class="chev" width="11" height="7" viewBox="0 0 11 7"><path d="M1 1 L5.5 5.5 L10 1" fill="none" stroke="#6c737c" stroke-width="1.3"/></svg></div>
 <span class="lbl" style="left:205px;top:112px">Gerundete Buchung</span>
 <div class="dash" style="left:205px;top:130px">10:25</div>
 <span class="lbl" style="left:463px;top:97px">Kostenstelle</span>
 <div class="inp sel" style="left:463px;top:115px;width:160px"><svg class="chev" width="11" height="7" viewBox="0 0 11 7"><path d="M1 1 L5.5 5.5 L10 1" fill="none" stroke="#6c737c" stroke-width="1.3"/></svg></div>
</div>
</div>
</body></html>
